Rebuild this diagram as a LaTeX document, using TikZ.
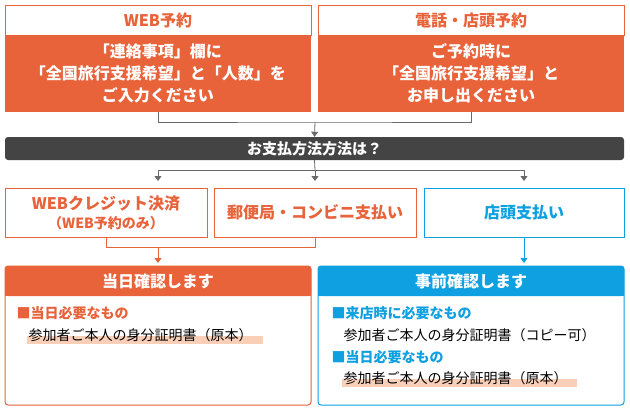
\documentclass[tikz,border=0pt]{standalone}
\usepackage{fontspec}
\setmainfont{Noto Sans CJK JP}
\usetikzlibrary{arrows.meta}
\definecolor{ora}{HTML}{E8623A}
\definecolor{sky}{HTML}{0EA0E0}
\definecolor{bar}{HTML}{444444}
\definecolor{hilite}{HTML}{F9CFB8}
\begin{document}
\begin{tikzpicture}[x=1pt,y=-1pt,
% common options for boxes:
frame/.style = {draw=#1, line width=1pt, fill=white},
pick/.style = {draw=#1, line width=1pt, fill=white, text=#1, align=center,
            font=\bfseries\fontsize{16}{19}\selectfont},
link/.style = {draw=bar!80, line width=0.8pt},
tip/.style = {-{Triangle[length=5pt,width=7pt]}}]
\useasboundingbox (0,0) rectangle (630,410);
% top row
\fill[ora] (5,35) rectangle (311,112);
\draw[frame=ora] (5,5) rectangle (311,35);
\node[text=ora, font=\bfseries\fontsize{16}{18}\selectfont] (webt) at (158,20) {WEB予約};
\node[text=white, align=center, font=\bfseries\fontsize{16}{22}\selectfont] (webb) at (158,73)
  {「連絡事項」欄に\\「全国旅行支援希望」と「人数」を\\ご入力ください};
\fill[ora] (318,35) rectangle (624,112);
\draw[frame=ora] (318,5) rectangle (624,35);
\node[text=ora, font=\bfseries\fontsize{16}{18}\selectfont] (telt) at (471,20) {電話・店頭予約};
\node[text=white, align=center, font=\bfseries\fontsize{16}{22}\selectfont] (telb) at (471,73)
  {ご予約時に\\「全国旅行支援希望」と\\お申し出ください};
\coordinate (webf) at (158,112);
\coordinate (telf) at (471,112);
\draw[link] (webf) |- (315,122) -| (telf);
% payment question
\node[fill=bar, rounded corners=3pt, minimum width=619pt, minimum height=23pt,
  text=white, font=\bfseries\fontsize{15}{17}\selectfont] (pay) at (314.5,148.5) {お支払方法方法は？};
\draw[link, tip] (315,122) -- (pay.north);
\coordinate (split) at (315,170);
\draw[link] (pay.south) -- (split);
\draw[link] (158,170) -- (524,170);
% payment choices
\node[pick=ora, minimum width=202pt, minimum height=49pt] (card) at (106,212.5)
  {WEBクレジット決済\\{\fontsize{14}{16}\selectfont（WEB予約のみ）}};
\node[pick=ora, minimum width=202pt, minimum height=49pt] (conv) at (315,212.5) {郵便局・コンビニ支払い};
\node[pick=sky, minimum width=200pt, minimum height=49pt] (shop) at (524,212.5) {店頭支払い};
\draw[link, tip] (158,170) -- (158,181);
\draw[link, tip] (split) -- (315,181);
\draw[link, tip] (524,170) -- (524,181);
\draw[draw=ora, line width=0.8pt] (card.south) |- (315,247) -- (conv.south);
\draw[draw=ora, line width=0.8pt, tip] (158,247) -- (158,263);
\draw[draw=sky, line width=0.8pt, tip] (shop.south) -- (524,263);
% checks
\draw[frame=ora, rounded corners=3pt] (5,266) rectangle (311,405);
\fill[ora, rounded corners=3pt] (5,266) rectangle (311,296);
\fill[ora] (5,285) rectangle (311,296);
\node[text=white, font=\bfseries\fontsize{16}{18}\selectfont] (today) at (158,281) {当日確認します};
\draw[frame=sky, rounded corners=3pt] (318,266) rectangle (624,405);
\fill[sky, rounded corners=3pt] (318,266) rectangle (624,296);
\fill[sky] (318,285) rectangle (624,296);
\node[text=white, font=\bfseries\fontsize{16}{18}\selectfont] (prior) at (471,281) {事前確認します};
\fill[hilite] (27,336) rectangle (263,344);
\fill[hilite] (342,379) rectangle (577,387);
\node[anchor=west, text=ora, font=\bfseries\fontsize{14}{16}\selectfont] (need1) at (13,313) {■当日必要なもの};
\node[anchor=west, font=\fontsize{14}{16}\selectfont] (doc1) at (25,335) {参加者ご本人の身分証明書（原本）};
\node[anchor=west, text=sky, font=\bfseries\fontsize{14}{16}\selectfont] (need2) at (328,313) {■来店時に必要なもの};
\node[anchor=west, font=\fontsize{14}{16}\selectfont] (doc2) at (340,335) {参加者ご本人の身分証明書（コピー可）};
\node[anchor=west, text=sky, font=\bfseries\fontsize{14}{16}\selectfont] (need3) at (328,357) {■当日必要なもの};
\node[anchor=west, font=\fontsize{14}{16}\selectfont] (doc3) at (340,378) {参加者ご本人の身分証明書（原本）};
\end{tikzpicture}
\end{document}
